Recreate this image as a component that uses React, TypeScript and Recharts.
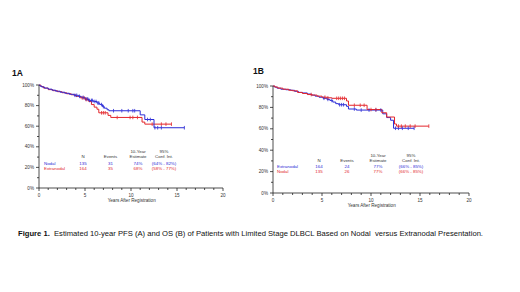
import { LineChart, Line, XAxis, YAxis } from "recharts";

const BLUE = "#2b2bd6";
const RED = "#e3262b";
const AXIS = "#222";
const TXT = "#333";

const xTicks = [0, 1, 2, 3, 4, 5, 6, 7, 8, 9, 10, 11, 12, 13, 14, 15, 16, 17, 18, 19, 20];
const yTicks = [0, 10, 20, 30, 40, 50, 60, 70, 80, 90, 100];

// 1A - PFS
const pfsNodalT = [0, 0.1, 0.3, 0.6, 1.0, 1.4, 1.8, 2.3, 2.8, 3.3, 3.8, 4.3, 4.6, 5.0, 5.4, 5.9, 6.3, 6.6, 6.9, 7.1, 7.4, 7.6, 11.0, 11.5, 12.5];
const pfsNodalS = [100, 99, 98, 97, 96, 95, 94, 93, 92, 91, 90, 89, 88, 86.5, 85, 84, 82.5, 81, 79, 77.5, 76, 75, 71, 66.5, 58.5];
const pfsNodalCensor = [3.9, 4.1, 4.4, 4.8, 5.1, 5.3, 5.5, 5.7, 5.8, 6.0, 6.2, 6.4, 6.5, 6.8, 7.0, 8.1, 9.0, 9.7, 10.2, 10.4, 11.8, 12.1, 12.6, 12.9, 13.3, 15.8];

const pfsExtraT = [0, 0.2, 0.5, 1.0, 1.5, 2.0, 2.5, 3.0, 3.5, 4.0, 4.5, 5.0, 5.4, 5.7, 6.0, 6.3, 6.5, 7.5, 7.8, 11.2, 11.5];
const pfsExtraS = [100, 98.5, 97, 95.5, 94.5, 93.5, 92.5, 91.5, 90.5, 89, 87.5, 86, 84, 81, 78.5, 76.5, 73, 70.5, 68.5, 64, 62];
const pfsExtraCensor = [4.7, 4.9, 5.1, 5.2, 6.8, 7.0, 7.2, 8.5, 9.9, 10.2, 10.7, 12.3, 13.3, 13.8, 14.4];

// 1B - OS
const osExtraT = [0, 0.15, 0.4, 0.8, 1.3, 1.8, 2.2, 2.6, 3.0, 3.5, 3.9, 4.3, 4.7, 5.1, 5.5, 5.8, 6.1, 6.4, 6.7, 7.5, 7.7, 8.5, 11.2, 11.6, 12.0, 12.3];
const osExtraS = [100, 99, 98, 97, 96.5, 96, 95, 94, 93.5, 92.5, 91.5, 90.5, 89.5, 88.5, 87.5, 86.5, 85, 83.5, 82.5, 81, 78.5, 77.5, 74, 70.5, 68, 60.5];
const osExtraCensor = [5.2, 5.6, 6.0, 6.8, 7.0, 7.2, 8.3, 9.0, 9.8, 10.5, 11.0, 12.5, 12.8, 13.2, 13.8, 14.4];

const osNodalT = [0, 0.2, 0.5, 1.0, 1.6, 2.0, 2.5, 3.0, 3.5, 4.0, 4.5, 5.0, 5.5, 6.0, 7.5, 7.7, 9.6, 11.1, 11.6, 12.4, 12.6];
const osNodalS = [100, 99, 98, 97, 96, 95.5, 94, 93, 92, 91.5, 90.5, 89.5, 89, 88.5, 86, 82, 78, 75, 71, 64.5, 62.5];
const osNodalCensor = [3.9, 5.3, 5.6, 6.5, 6.7, 6.9, 7.1, 7.3, 8.3, 8.9, 9.3, 10.0, 10.5, 12.8, 13.1, 13.5, 14.0, 14.5, 15.9];

// summary tables
const tableHead1 = ["", "", "10-Year", "95%"];
const tableHead2 = ["N", "Events", "Estimate", "Conf. Int."];
const pfsRows = [
  { name: "Nodal", n: "135", ev: "31", est: "74%", ci: "(64% - 82%)" },
  { name: "Extranodal", n: "164", ev: "35", est: "68%", ci: "(58% - 77%)" },
];
const osRows = [
  { name: "Extranodal", n: "164", ev: "24", est: "77%", ci: "(66% - 85%)" },
  { name: "Nodal", n: "135", ev: "26", est: "77%", ci: "(66% - 85%)" },
];

function buildCurve(times: number[], surv: number[], censor: number[]) {
  const pts = times.map((t, i) => ({ t, s: surv[i], c: false }));
  censor.forEach((ct) => {
    let s = surv[0];
    times.forEach((t, i) => {
      if (t <= ct) s = surv[i];
    });
    pts.push({ t: ct, s, c: true });
  });
  return pts.sort((a, b) => a.t - b.t || (a.c ? 1 : -1));
}

const censorDot = (color: string) => (p: any) =>
  p.payload.c ? (
    <line key={p.index} x1={p.cx} x2={p.cx} y1={p.cy - 1.8} y2={p.cy + 1.8} stroke={color} strokeWidth={0.8} />
  ) : (
    <g key={p.index} />
  );

function XTick({ x, y, payload }: any) {
  const major = payload.value % 5 === 0;
  return (
    <g>
      <line x1={x} x2={x} y1={y} y2={y + (major ? 3 : 2)} stroke={AXIS} strokeWidth={0.8} />
      {major && (
        <text x={x} y={y + 9} textAnchor="middle" fontSize={4.6} fill={TXT}>
          {payload.value}
        </text>
      )}
    </g>
  );
}

function YTick({ x, y, payload }: any) {
  const major = payload.value % 20 === 0;
  return (
    <g>
      <line x1={x - (major ? 3 : 2)} x2={x} y1={y} y2={y} stroke={AXIS} strokeWidth={0.8} />
      {major && (
        <text x={x - 5} y={y + 1.6} textAnchor="end" fontSize={4.6} fill={TXT}>
          {payload.value + "%"}
        </text>
      )}
    </g>
  );
}

function Panel({ left, width, height, top, right, curves }: any) {
  return (
    <div style={{ position: "absolute", left, top: 0 }}>
      <LineChart width={width} height={height} margin={{ top, right, left: 0, bottom: 7 }}>
        <XAxis
          dataKey="t"
          type="number"
          domain={[0, 20]}
          ticks={xTicks}
          interval={0}
          height={20}
          tickSize={0}
          tickMargin={0}
          tickLine={false}
          axisLine={{ stroke: AXIS, strokeWidth: 0.8 }}
          tick={<XTick />}
        />
        <YAxis
          type="number"
          domain={[0, 100]}
          ticks={yTicks}
          interval={0}
          width={39}
          tickSize={0}
          tickMargin={0}
          tickLine={false}
          axisLine={{ stroke: AXIS, strokeWidth: 0.8 }}
          tick={<YTick />}
        />
        {curves.map((c: any) => (
          <Line
            key={c.name}
            data={c.data}
            dataKey="s"
            type="stepAfter"
            stroke={c.color}
            strokeWidth={1}
            dot={censorDot(c.color)}
            activeDot={false}
            isAnimationActive={false}
          />
        ))}
      </LineChart>
    </div>
  );
}

function Table({ x0, cols, ys, rows }: any) {
  const colors = rows.map((r: any) => r.color);
  return (
    <g fontSize={4.4} fill={TXT}>
      {tableHead1.map((h, i) => (
        <text key={"a" + i} x={cols[i]} y={ys[0]} textAnchor="middle">{h}</text>
      ))}
      {tableHead2.map((h, i) => (
        <text key={"b" + i} x={cols[i]} y={ys[1]} textAnchor="middle">{h}</text>
      ))}
      {rows.map((r: any, j: number) => (
        <g key={r.name} fill={colors[j]}>
          <text x={x0} y={ys[2 + j]}>{r.name}</text>
          <text x={cols[0]} y={ys[2 + j]} textAnchor="middle">{r.n}</text>
          <text x={cols[1]} y={ys[2 + j]} textAnchor="middle">{r.ev}</text>
          <text x={cols[2]} y={ys[2 + j]} textAnchor="middle">{r.est}</text>
          <text x={cols[3]} y={ys[2 + j]} textAnchor="middle">{r.ci}</text>
        </g>
      ))}
    </g>
  );
}

export default function App() {
  const curvesA = [
    { name: "Extranodal", color: RED, data: buildCurve(pfsExtraT, pfsExtraS, pfsExtraCensor) },
    { name: "Nodal", color: BLUE, data: buildCurve(pfsNodalT, pfsNodalS, pfsNodalCensor) },
  ];
  const curvesB = [
    { name: "Extranodal", color: BLUE, data: buildCurve(osExtraT, osExtraS, osExtraCensor) },
    { name: "Nodal", color: RED, data: buildCurve(osNodalT, osNodalS, osNodalCensor) },
  ];
  return (
    <div
      style={{
        position: "absolute",
        left: 0,
        top: 0,
        width: 520,
        height: 292,
        background: "#fff",
        fontFamily: "'Liberation Sans', Arial, sans-serif",
        overflow: "hidden",
      }}
    >
      <Panel left={0} width={240} height={215} top={85} right={17} curves={curvesA} />
      <Panel left={234} width={250} height={220} top={86} right={15} curves={curvesB} />
      <svg
        width={520}
        height={292}
        style={{ position: "absolute", left: 0, top: 0, pointerEvents: "none" }}
        fontFamily="'Liberation Sans', Arial, sans-serif"
      >
        <text x={12} y={75.5} fontSize={8.5} fontWeight="bold" fill="#111">1A</text>
        <text x={253} y={74} fontSize={8.5} fontWeight="bold" fill="#111">1B</text>
        <text x={131.7} y={201.8} fontSize={4.6} fill={TXT} textAnchor="middle">Years After Registration</text>
        <text x={371.7} y={206.8} fontSize={4.6} fill={TXT} textAnchor="middle">Years After Registration</text>
        <Table
          x0={44}
          cols={[83, 110.5, 138, 164]}
          ys={[153, 158.3, 164.8, 169.8]}
          rows={pfsRows.map((r, i) => ({ ...r, color: i === 0 ? BLUE : RED }))}
        />
        <Table
          x0={277}
          cols={[319, 347, 378, 411]}
          ys={[156.5, 161.5, 167.8, 173]}
          rows={osRows.map((r, i) => ({ ...r, color: i === 0 ? BLUE : RED }))}
        />
        <text
          x={18}
          y={236}
          fontSize={7.4}
          fill="#111"
          textLength={465}
          lengthAdjust="spacingAndGlyphs"
          style={{ whiteSpace: "pre" }}
        >
          <tspan fontWeight="bold">Figure 1.</tspan>
          {"  Estimated 10-year PFS (A) and OS (B) of Patients with Limited Stage DLBCL Based on Nodal  versus Extranodal Presentation."}
        </text>
      </svg>
    </div>
  );
}
